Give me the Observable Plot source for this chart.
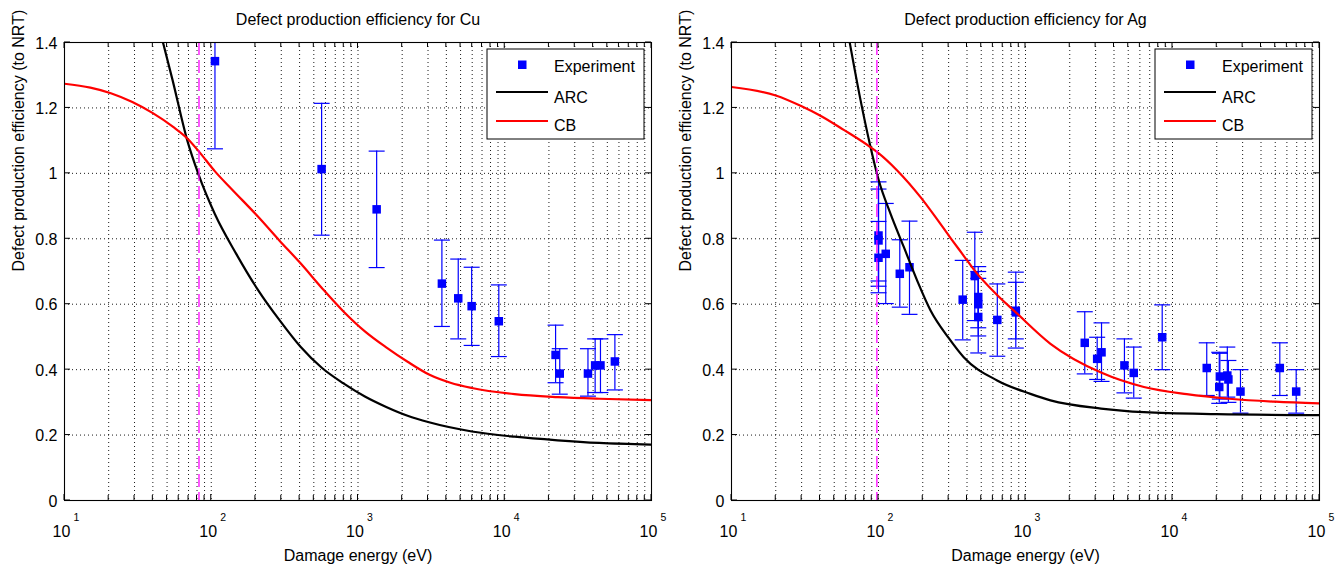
<!DOCTYPE html>
<html><head><meta charset="utf-8">
<script src="https://cdn.jsdelivr.net/npm/d3@7"></script>
<script src="https://cdn.jsdelivr.net/npm/@observablehq/plot@0.6"></script>
<style>
body{margin:0;background:#fff;}
#wrap{display:flex;width:1343px;height:567px;overflow:hidden;}
svg{font-family:"Liberation Sans",Arial,Helvetica,sans-serif;}
</style></head><body><div id="wrap"></div>
<script>
// ---- axis ticks ----
const decades = [10, 100, 1000, 10000, 100000];
const yTicks = [0, 0.2, 0.4, 0.6, 0.8, 1, 1.2, 1.4];
const xLabel = "Damage energy (eV)";
const yLabel = "Defect production efficiency (to NRT)";
const legendLabels = ["Experiment", "ARC", "CB"];

// ---- Cu ----
const cuTitle = "Defect production efficiency for Cu";
const cuThreshold = 82.5;
const cuExpE  = [106, 565, 1340, 3730, 4820, 5950, 9110, 22200, 23700, 36900, 41300, 44900, 56300];
const cuExpV  = [1.343, 1.013, 0.890, 0.663, 0.618, 0.594, 0.548, 0.445, 0.388, 0.388, 0.413, 0.413, 0.425];
const cuExpLo = [1.075, 0.811, 0.712, 0.532, 0.494, 0.474, 0.440, 0.360, 0.325, 0.319, 0.330, 0.330, 0.338];
const cuExpHi = [1.610, 1.214, 1.068, 0.796, 0.738, 0.713, 0.659, 0.536, 0.464, 0.464, 0.494, 0.494, 0.507];
const cuArcE = [46.9, 54.3, 68.7, 82, 106, 148, 208, 291, 406, 569, 796, 1114, 1557, 2178, 3048, 5970, 11670, 22900, 44000, 100000];
const cuArcV = [1.4, 1.288, 1.1, 0.996, 0.875, 0.754, 0.644, 0.552, 0.47, 0.405, 0.358, 0.318, 0.286, 0.259, 0.239, 0.211, 0.195, 0.184, 0.176, 0.171];
const cuCbE = [10, 15, 20.7, 29, 40, 55, 69, 82, 106, 139, 208, 291, 406, 569, 796, 1114, 1557, 2178, 3048, 4266, 5970, 11670, 22900, 44000, 100000];
const cuCbV = [1.274, 1.262, 1.245, 1.218, 1.184, 1.142, 1.106, 1.068, 1.006, 0.95, 0.868, 0.795, 0.725, 0.649, 0.578, 0.517, 0.468, 0.424, 0.385, 0.36, 0.344, 0.325, 0.316, 0.311, 0.307];

// ---- Ag ----
const agTitle = "Defect production efficiency for Ag";
const agThreshold = 97.5;
const agExpE  = [100, 100, 100, 112, 139.6, 162.5, 374, 452, 477, 477, 477, 643, 859, 859, 2530, 3073, 3290, 4710, 5450, 8510, 17100, 20800, 21000, 23600, 24000, 29000, 53700, 69400];
const agExpV  = [0.810, 0.795, 0.742, 0.754, 0.693, 0.713, 0.614, 0.686, 0.622, 0.600, 0.561, 0.552, 0.580, 0.575, 0.482, 0.433, 0.453, 0.413, 0.390, 0.499, 0.405, 0.347, 0.379, 0.382, 0.370, 0.333, 0.405, 0.333];
const agExpLo = [0.671, 0.655, 0.635, 0.602, 0.591, 0.569, 0.491, 0.550, 0.528, 0.503, 0.451, 0.441, 0.466, 0.494, 0.387, 0.370, 0.364, 0.329, 0.313, 0.400, 0.321, 0.297, 0.310, 0.316, 0.300, 0.267, 0.321, 0.267];
const agExpHi = [0.974, 0.952, 0.853, 0.908, 0.797, 0.854, 0.734, 0.820, 0.715, 0.700, 0.679, 0.662, 0.698, 0.667, 0.577, 0.499, 0.543, 0.494, 0.469, 0.598, 0.482, 0.453, 0.450, 0.469, 0.428, 0.400, 0.482, 0.400];
const agArcE = [63.7, 75, 87.3, 100.5, 120.8, 148.6, 183, 226, 300, 380, 641, 1081, 1479, 3265, 6390, 20000, 100000];
const agArcV = [1.4, 1.23, 1.09, 0.978, 0.876, 0.775, 0.673, 0.581, 0.497, 0.438, 0.367, 0.326, 0.306, 0.281, 0.27, 0.264, 0.261];
const agCbE = [10, 20, 30, 40, 58, 87, 100, 134, 195, 250, 312, 380, 447, 641, 859, 1479, 3265, 6390, 12500, 24400, 50000, 100000];
const agCbV = [1.264, 1.238, 1.205, 1.177, 1.133, 1.082, 1.062, 1.009, 0.925, 0.86, 0.80, 0.748, 0.705, 0.628, 0.575, 0.479, 0.391, 0.347, 0.325, 0.311, 0.302, 0.297];

const FONT = '"Liberation Sans", Arial, Helvetica, sans-serif';
const BLUE = "#0000ff";

// log-grid positions (2..9 x 10^k, plus inner decades)
const gridXs = [];
decades.slice(0, -1).forEach((d, i) => {
  for (let m = 1; m <= 9; m++) if (!(m === 1 && i === 0)) gridXs.push(d * m);
});
const minorXs = gridXs.filter(v => !decades.includes(v));

const capSymbol = {draw(ctx, size) { const w = Math.sqrt(size / Math.PI); ctx.moveTo(-w, 0); ctx.lineTo(w, 0); }};

function panel({title, thr, expE, expV, expLo, expHi, arcE, arcV, cbE, cbV, width, marginLeft, marginRight}) {
  const exp = expE.map((e, i) => ({e, v: expV[i], lo: expLo[i], hi: expHi[i]}));
  const arc = arcE.map((e, i) => ({e, v: arcV[i]}));
  const cb = cbE.map((e, i) => ({e, v: cbV[i]}));
  const plot = Plot.plot({
    width, height: 567, marginLeft, marginRight, marginTop: 42, marginBottom: 67,
    style: {fontFamily: FONT, fontSize: "16px", color: "black", background: "white"},
    x: {type: "log", domain: [10, 1e5], axis: null},
    y: {domain: [0, 1.4], axis: null},
    marks: [
      Plot.gridX(gridXs, {stroke: "black", strokeOpacity: 0.9, strokeDasharray: "1,3"}),
      Plot.gridY(yTicks.slice(1, -1), {stroke: "black", strokeOpacity: 0.9, strokeDasharray: "1,3"}),
      Plot.text(yTicks, {y: d => d, frameAnchor: "left", dx: -7, dy: 1, textAnchor: "end", lineAnchor: "middle", text: d => String(+d.toFixed(1)), fontSize: 16}),
      Plot.text(decades, {x: d => d, frameAnchor: "bottom", lineAnchor: "middle", dy: 31, dx: -3, text: () => "10", fontSize: 16}),
      Plot.text(decades, {x: d => d, frameAnchor: "bottom", lineAnchor: "middle", dy: 17.5, dx: 12, text: d => String(Math.round(Math.log10(d))), fontSize: 10.5}),
      Plot.ruleX(exp, {x: "e", y1: "lo", y2: "hi", stroke: BLUE, strokeWidth: 1.2, clip: true}),
      Plot.dot(exp, {x: "e", y: "lo", symbol: capSymbol, r: 8, stroke: BLUE, fill: "none", strokeWidth: 1.2, clip: true}),
      Plot.dot(exp, {x: "e", y: "hi", symbol: capSymbol, r: 8, stroke: BLUE, fill: "none", strokeWidth: 1.2, clip: true}),
      Plot.dot(exp, {x: "e", y: "v", symbol: "square", r: 4.8, fill: BLUE, stroke: "none", clip: true}),
      Plot.line(arc, {x: "e", y: "v", stroke: "black", strokeWidth: 2.2, curve: "monotone-x", clip: true}),
      Plot.line(cb, {x: "e", y: "v", stroke: "#ff0000", strokeWidth: 2.2, curve: "monotone-x", clip: true}),
      Plot.ruleX([thr], {stroke: "#ff00ff", strokeWidth: 1.3, strokeDasharray: "13,5"}),
      Plot.frame({stroke: "black", strokeWidth: 1.1}),
      Plot.text([title], {frameAnchor: "top", lineAnchor: "middle", dy: -23, fontSize: 16}),
      Plot.text([xLabel], {frameAnchor: "bottom", lineAnchor: "middle", dy: 55, fontSize: 16}),
      Plot.text([yLabel], {frameAnchor: "left", lineAnchor: "middle", dx: -46, rotate: -90, fontSize: 16})
    ]
  });

  // inward ticks on all four sides, placed via Plot's scales
  const xs = plot.scale("x"), ys = plot.scale("y");
  const top = 42, bottom = 567 - 67, left = marginLeft, right = width - marginRight;
  const svg = d3.select(plot);
  const t = svg.append("g").attr("stroke", "black").attr("stroke-width", 1);
  decades.concat(minorXs).forEach(v => {
    const px = xs.apply(v), len = decades.includes(v) ? 6 : 5;
    t.append("line").attr("x1", px).attr("x2", px).attr("y1", bottom).attr("y2", bottom - len);
    t.append("line").attr("x1", px).attr("x2", px).attr("y1", top).attr("y2", top + len);
  });
  yTicks.forEach(v => {
    const py = ys.apply(v);
    t.append("line").attr("x1", left).attr("x2", left + 6).attr("y1", py).attr("y2", py);
    t.append("line").attr("x1", right).attr("x2", right - 6).attr("y1", py).attr("y2", py);
  });

  // legend box
  const bw = 157, bh = 90, bx = right - 7 - bw, by = top + 7;
  const g = svg.append("g").attr("font-family", FONT).attr("font-size", 16).attr("text-anchor", "start");
  g.append("rect").attr("x", bx).attr("y", by).attr("width", bw).attr("height", bh)
    .attr("fill", "white").attr("stroke", "black").attr("stroke-width", 1);
  g.append("rect").attr("x", bx + 31).attr("y", by + 11.5).attr("width", 8.5).attr("height", 8.5).attr("fill", BLUE);
  g.append("line").attr("x1", bx + 9).attr("x2", bx + 61).attr("y1", by + 43).attr("y2", by + 43).attr("stroke", "black").attr("stroke-width", 2.2);
  g.append("line").attr("x1", bx + 9).attr("x2", bx + 61).attr("y1", by + 72).attr("y2", by + 72).attr("stroke", "#ff0000").attr("stroke-width", 2.2);
  [by + 23, by + 53.5, by + 81.5].forEach((y, i) => {
    g.append("text").attr("x", bx + 67).attr("y", y).attr("text-anchor", "start").attr("fill", "black").text(legendLabels[i]);
  });
  return plot;
}

const wrap = document.getElementById("wrap");
wrap.append(panel({title: cuTitle, thr: cuThreshold, expE: cuExpE, expV: cuExpV, expLo: cuExpLo, expHi: cuExpHi,
  arcE: cuArcE, arcV: cuArcV, cbE: cuCbE, cbV: cuCbV, width: 671, marginLeft: 64, marginRight: 20}));
wrap.append(panel({title: agTitle, thr: agThreshold, expE: agExpE, expV: agExpV, expLo: agExpLo, expHi: agExpHi,
  arcE: agArcE, arcV: agArcV, cbE: agCbE, cbV: agCbV, width: 672, marginLeft: 60, marginRight: 24}));
</script>
</body></html>
